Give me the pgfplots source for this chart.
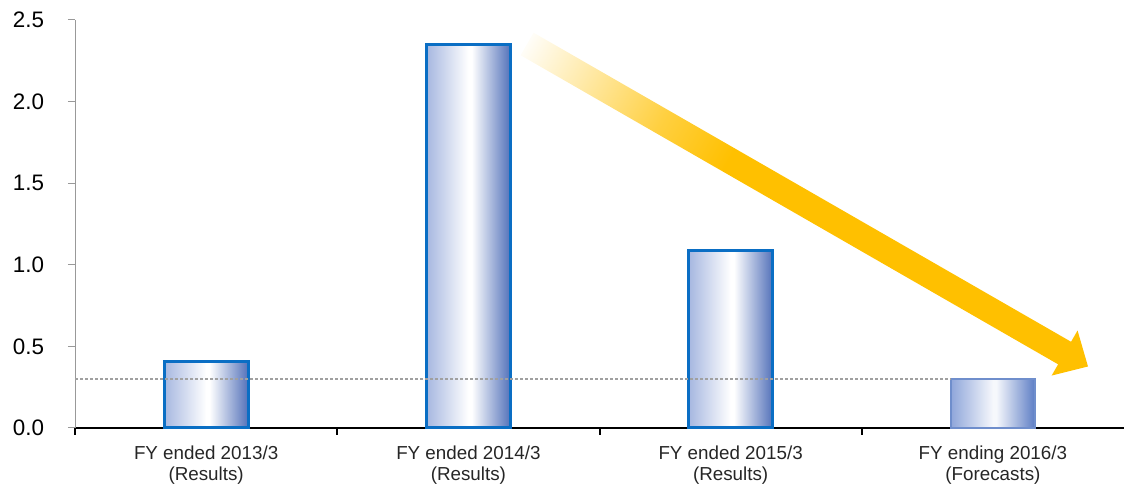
\documentclass[border=0pt]{standalone}
\usepackage{pgfplots}
\pgfplotsset{compat=1.18}
\usepackage{fontspec}
\setmainfont{Liberation Sans}

\definecolor{barEdge}{HTML}{0A6EC4}
\definecolor{fcEdge}{HTML}{6F8ECC}
\definecolor{barL}{HTML}{A6B7E0}
\definecolor{barR}{HTML}{5472BA}
\definecolor{fcL}{HTML}{8FA6DA}
\definecolor{fcR}{HTML}{5E7EC5}
\definecolor{arrowY}{HTML}{FFC000}
\definecolor{refGray}{HTML}{A0A0A0}

% shadings are fitted so that the 25bp..75bp band spans the filled shape
% side-lit bar fill: light blue -> white highlight -> deeper blue
\pgfdeclarehorizontalshading{barshade}{100bp}{color(0bp)=(barL); color(25bp)=(barL); color(50bp)=(white); color(52bp)=(white); color(75bp)=(barR); color(100bp)=(barR)}
\pgfdeclarehorizontalshading{fcshade}{100bp}{color(0bp)=(fcL); color(25bp)=(fcL); color(50bp)=(white!92!fcL); color(52bp)=(white!92!fcL); color(75bp)=(fcR); color(100bp)=(fcR)}
% trend arrow fading in from the tail
\pgfdeclarehorizontalshading{arrowfade}{100bp}{color(0bp)=(arrowY!3); color(25bp)=(arrowY!3); color(37bp)=(arrowY!75); color(43bp)=(arrowY); color(100bp)=(arrowY)}

\pgfplotsset{
  result bar/.style={ybar, bar width=42pt, draw=barEdge, line width=1.5pt, shade, shading=barshade},
}

\begin{document}
\begin{tikzpicture}
\begin{axis}[
  name=ax,
  scale only axis,
  width=524.5pt, height=204pt,
  xmin=-0.5, xmax=3.5,
  ymin=0, ymax=2.5,
  axis x line*=bottom,
  axis y line*=left,
  x axis line style={black, line width=1pt},
  y axis line style={draw=gray!80, line width=0.5pt},
  tick align=outside,
  major tick length=3.5pt,
  ytick={0,0.5,1,1.5,2,2.5},
  ytick style={draw=gray!80, line width=0.5pt},
  yticklabel style={font=\fontsize{11.2}{13}\selectfont, text=black, xshift=-8.4pt},
  /pgf/number format/fixed,
  /pgf/number format/fixed zerofill,
  /pgf/number format/precision=1,
  /pgf/number format/assume math mode=true,
  xtick={-0.5,0.5,1.5,2.5},
  xticklabels={,,,},
  xtick style={draw=black, line width=1pt},
  extra x ticks={0,1,2,3},
  extra x tick labels={{FY ended 2013/3\\(Results)},{FY ended 2014/3\\(Results)},{FY ended 2015/3\\(Results)},{FY ending 2016/3\\(Forecasts)}},
  extra x tick style={major tick length=0pt, xticklabel style={align=center, font=\fontsize{9.4}{10.2}\selectfont, text=black!85, yshift=-5.5pt}},
  clip=false,
]
% one plot per bar so each bar carries its own highlight
\addplot[result bar] coordinates {(0,0.41)};
\addplot[result bar] coordinates {(1,2.35)};
\addplot[result bar] coordinates {(2,1.085)};
\addplot[ybar, bar width=42pt, draw=fcEdge, line width=1pt, shade, shading=fcshade]
  coordinates {(3,0.30)};
% forecast reference level
\addplot[refGray, line width=0.6pt, dash pattern=on 1.5pt off 1pt]
  coordinates {(-0.5,0.30) (2.838,0.30)};
\coordinate (arrTail) at (axis cs:1.224,2.353);
\coordinate (arrTip) at (axis cs:3.363,0.380);
\end{axis}
% downward trend arrow
\begin{scope}[transform canvas={shift={(arrTail)}, rotate=-29.9}]
  \shade[shading=arrowfade]
    (0pt,-6.5pt) -- (310pt,-6.5pt) -- (310pt,-13pt) -- (323.5pt,0pt)
    -- (310pt,13pt) -- (310pt,6.5pt) -- (0pt,6.5pt) -- cycle;
\end{scope}
\pgfresetboundingbox
\path[use as bounding box] ([shift={(-37.5pt,-29pt)}]ax.south west) rectangle ([shift={(0pt,214pt)}]ax.south east);
\end{tikzpicture}
\end{document}
